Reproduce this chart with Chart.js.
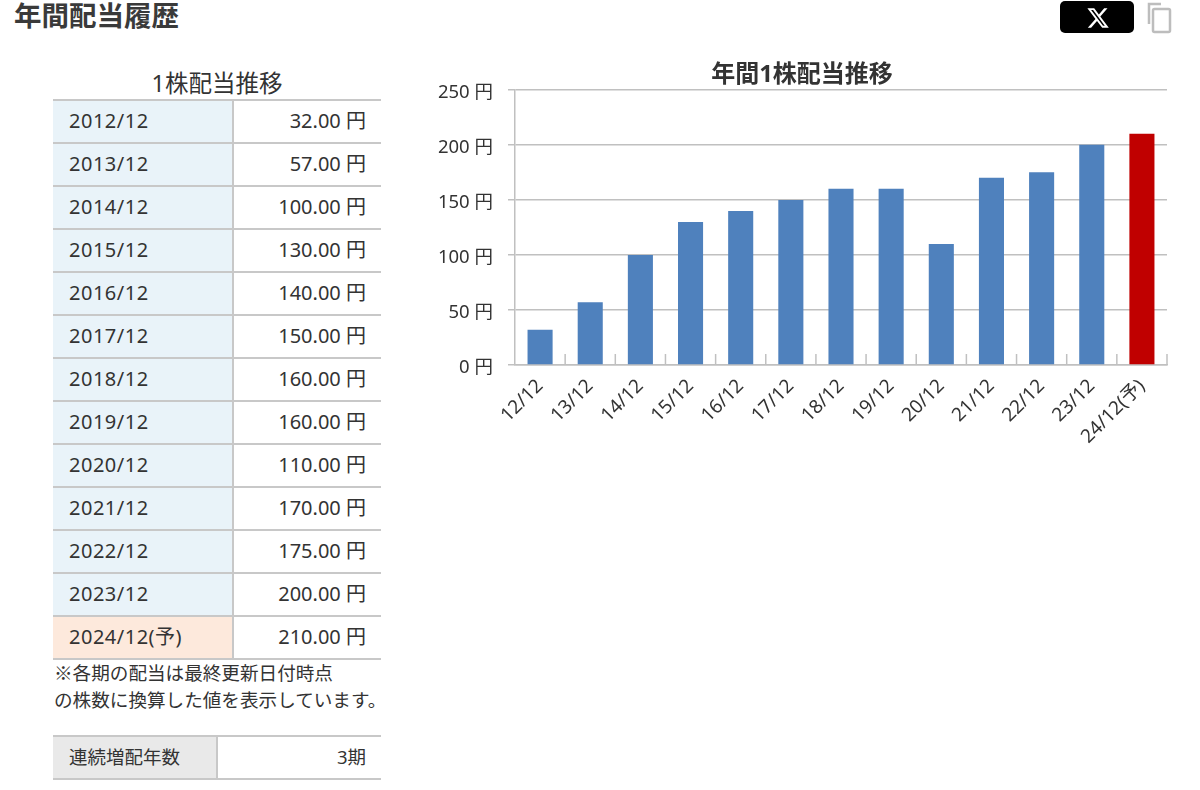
<!DOCTYPE html>
<html lang="ja">
<head>
<meta charset="UTF-8">
<title>年間配当履歴</title>
<script src="https://cdn.jsdelivr.net/npm/chart.js"></script>
<style>
    body { margin: 0; background: #fff; color: #333; font-family: "Noto Sans", "Noto Sans CJK JP", sans-serif; width: 1200px; height: 790px; overflow: hidden; position: relative; }
    h2 { position: absolute; left: 14px; top: -4px; margin: 0; font-size: 27.5px; line-height: 40px; font-weight: 700; color: #3a3a3a; }
    .xbtn { position: absolute; left: 1060px; top: 1px; width: 74px; height: 32px; background: #000; border-radius: 5px; }
    .xbtn svg { position: absolute; left: 26px; top: 5px; }
    .copy { position: absolute; left: 1146px; top: 2px; }
    .cap { position: absolute; left: 53px; width: 328px; top: 67px; text-align: center; font-size: 23.5px; line-height: 32px; }
    table { position: absolute; left: 53px; width: 328px; border-collapse: collapse; table-layout: fixed; font-size: 20px; }
    td { border-top: 2px solid #c8c8c8; border-bottom: 2px solid #c8c8c8; padding: 0 15px 1px 16px; height: 40px; line-height: 40px; white-space: nowrap; }
    td.k { background: #e9f3f9; border-right: 2px solid #c8c8c8; letter-spacing: 0.5px; }
    td.k.f { background: #fde9dc; }
    td.g { background: #e9e9e9; border-right: 2px solid #c8c8c8; font-size: 18.5px; }
    td.v { text-align: right; }
    #streakTable td.v { font-size: 18.5px; }
    .note { position: absolute; left: 54px; top: 658px; font-family: "Noto Sans CJK JP", sans-serif; font-size: 18.6px; line-height: 27px; white-space: nowrap; }
    .wrap { position: absolute; left: 437px; top: 54px; width: 753px; height: 402px; }
</style>
</head>
<body>
<h2>年間配当履歴</h2>
<div class="xbtn"><svg width="24" height="24" viewBox="0 0 24 24"><path fill="#fff" d="M18.2 2.3h3.3l-7.2 8.2L22.8 21.8h-6.6l-5.200-6.800-5.900 6.800H1.800l7.700-8.800L1.400 2.300h6.800l4.700 6.200zm-1.200 17.500h1.800L7.100 4.100H5.100z"/></svg></div>
<svg class="copy" width="28" height="32" viewBox="0 0 28 32" fill="none" stroke="#bdbdbd" stroke-width="2.500"><path d="M15 2H3v20"/><rect x="7" y="7" width="17" height="23" rx="1.500"/></svg>
<div class="cap">1株配当推移</div>
<table id="divTable" style="top:99px"></table>
<div class="note">※各期の配当は最終更新日付時点<br>の株数に換算した値を表示しています。</div>
<table id="streakTable" style="top:735px"></table>
<div class="wrap"><canvas id="divChart"></canvas></div>

<script>
    // 表のデータ
    const periods = ['2012/12', '2013/12', '2014/12', '2015/12', '2016/12', '2017/12', '2018/12', '2019/12', '2020/12', '2021/12', '2022/12', '2023/12', '2024/12(予)'];
    const dividends = [32, 57, 100, 130, 140, 150, 160, 160, 110, 170, 175, 200, 210];

    // グラフのデータ
    const chartLabels = ['12/12', '13/12', '14/12', '15/12', '16/12', '17/12', '18/12', '19/12', '20/12', '21/12', '22/12', '23/12', '24/12(予)'];
    const yTicks = [0, 50, 100, 150, 200, 250];
    const streakLabel = '連続増配年数';
    const streakValue = '3期';

    const forecastIndex = chartLabels.length - 1;

    let rows = '<colgroup><col style="width:180px"><col></colgroup>';
    periods.forEach((p, i) => {
        const cls = i === forecastIndex ? 'k f' : 'k';
        rows += `<tr><td class="${cls}">${p}</td><td class="v">${dividends[i].toFixed(2)} 円</td></tr>`;
    });
    document.getElementById('divTable').innerHTML = rows;
    document.getElementById('streakTable').innerHTML =
        `<colgroup><col style="width:164px"><col></colgroup><tr><td class="g">${streakLabel}</td><td class="v">${streakValue}</td></tr>`;

    // x軸の短い目盛り（内向き）
    const innerTicks = {
        id: 'innerTicks',
        afterDatasetsDraw(chart) {
            const { ctx, scales: { x }, chartArea } = chart;
            const step = x.getPixelForValue(1) - x.getPixelForValue(0);
            ctx.save();
            ctx.strokeStyle = '#c0c0c0';
            ctx.lineWidth = 1.5;
            for (let i = 1; i <= chartLabels.length; i++) {
                const px = x.getPixelForValue(i - 1) + step / 2;
                ctx.beginPath();
                ctx.moveTo(px, chartArea.bottom);
                ctx.lineTo(px, chartArea.bottom - 11);
                ctx.stroke();
            }
            ctx.restore();
        }
    };

    const fontFamily = '"Noto Sans", "Noto Sans CJK JP", sans-serif';
    new Chart(document.getElementById('divChart'), {
        type: 'bar',
        data: {
            labels: chartLabels,
            datasets: [{
                data: dividends,
                backgroundColor: dividends.map((_, i) => i === forecastIndex ? '#c00000' : '#4f81bd'),
                barPercentage: 0.5,
                categoryPercentage: 1
            }]
        },
        options: {
            responsive: true,
            maintainAspectRatio: false,
            animation: false,
            layout: { padding: { right: 23, top: 0, bottom: 0, left: 0 } },
            plugins: {
                legend: { display: false },
                tooltip: { enabled: false },
                title: {
                    display: true,
                    text: '年間1株配当推移',
                    color: '#333',
                    font: { family: fontFamily, size: 24, weight: 'bold' },
                    padding: { top: 7, bottom: 0 }
                }
            },
            scales: {
                x: {
                    grid: { display: false, drawTicks: false },
                    border: { color: '#c0c0c0', width: 1.5 },
                    ticks: { color: '#333', font: { family: fontFamily, size: 19 }, minRotation: 45, maxRotation: 45, padding: 10, autoSkip: false },
                    afterFit(scale) { scale.height = 91; }
                },
                y: {
                    min: 0,
                    max: 250,
                    afterBuildTicks(scale) { scale.ticks = yTicks.map(v => ({ value: v })); },
                    grid: { color: '#c0c0c0', lineWidth: 1.5, tickLength: 7 },
                    border: { color: '#c0c0c0', width: 1.5 },
                    ticks: { color: '#333', font: { family: fontFamily, size: 18.5 }, padding: 15, labelOffset: 3, callback: v => v + ' 円' },
                    afterFit(scale) { scale.width = 78; }
                }
            }
        },
        plugins: [innerTicks]
    });
</script>
</body>
</html>
